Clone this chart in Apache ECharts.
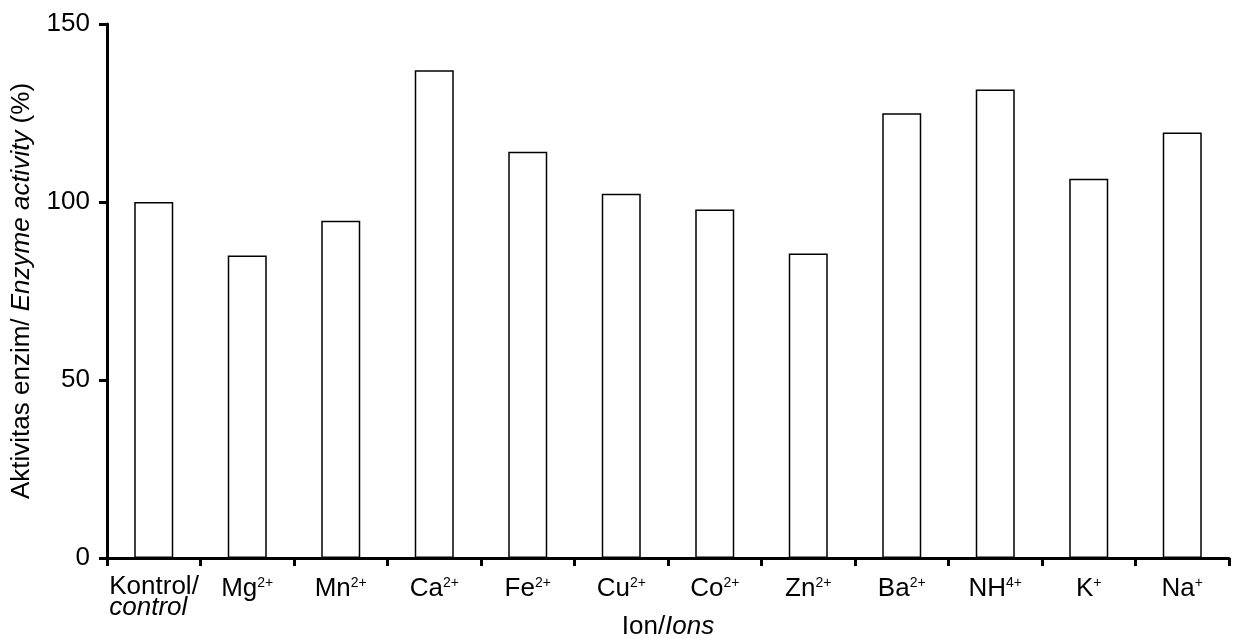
<!DOCTYPE html>
<html>
<head>
<meta charset="utf-8">
<script src="https://cdn.jsdelivr.net/npm/echarts@6/dist/echarts.min.js"></script>
<style>html,body{margin:0;padding:0;background:#fff;}#c{width:1233px;height:639px;}</style>
</head>
<body>
<div id="c"></div>
<script>
// Data
var ions = ['Kontrol/', 'Mg', 'Mn', 'Ca', 'Fe', 'Cu', 'Co', 'Zn', 'Ba', 'NH', 'K', 'Na'];
var charges = ['', '2+', '2+', '2+', '2+', '2+', '2+', '2+', '2+', '4+', '+', '+'];
var activity = [100, 85, 94.7, 137, 114.1, 102.3, 97.9, 85.5, 124.9, 131.6, 106.5, 119.5];
var yTicks = [0, 50, 100, 150];

var FONT = 'Liberation Sans, Arial, sans-serif';
var FS = 26;
var chart = echarts.init(document.getElementById('c'), null, {renderer: 'canvas'});

var categories = ions.map(function (n, i) { return n + '|' + charges[i]; });

chart.setOption({
  animation: false,
  backgroundColor: '#ffffff',
  grid: {left: 107, right: 4, top: 24, bottom: 81, containLabel: false, outerBoundsMode: 'none'},
  xAxis: {
    type: 'category',
    data: categories,
    name: 'Ion/{i|Ions}',
    nameLocation: 'middle',
    nameGap: 56,
    nameMoveOverlap: false,
    nameTextStyle: {
      fontFamily: FONT, fontSize: FS, color: '#000', lineHeight: FS,
      rich: {i: {fontFamily: FONT, fontSize: FS, fontStyle: 'italic', color: '#000', lineHeight: FS}}
    },
    axisLine: {lineStyle: {color: '#000', width: 3}},
    axisTick: {show: true, length: 8, lineStyle: {color: '#000', width: 3}},
    axisLabel: {
      interval: 0,
      margin: 18,
      color: '#000',
      fontFamily: FONT,
      fontSize: FS,
      lineHeight: 21,
      formatter: function (v) {
        var p = v.split('|');
        if (p[0] === 'Kontrol/') {
          return '{k|Kontrol/}\n{ki|control}';
        }
        return '{b|' + p[0] + '}{s|' + p[1] + '}';
      },
      rich: {
        b: {fontFamily: FONT, fontSize: FS, color: '#000', lineHeight: FS},
        s: {fontFamily: FONT, fontSize: 14, color: '#000', lineHeight: 14, verticalAlign: 'top'},
        k: {fontFamily: FONT, fontSize: FS, color: '#000', lineHeight: 21, width: 89, align: 'left'},
        ki: {fontFamily: FONT, fontSize: FS, fontStyle: 'italic', color: '#000', lineHeight: 21, width: 89, align: 'left'}
      }
    },
    splitLine: {show: false}
  },
  yAxis: {
    type: 'value',
    min: yTicks[0],
    max: yTicks[yTicks.length - 1],
    interval: yTicks[1] - yTicks[0],
    name: 'Aktivitas enzim/ {i|Enzyme activity} (%)',
    nameLocation: 'middle',
    nameGap: 72,
    nameRotate: 90,
    nameMoveOverlap: false,
    nameTextStyle: {
      fontFamily: FONT, fontSize: FS, color: '#000',
      rich: {i: {fontFamily: FONT, fontSize: FS, fontStyle: 'italic', color: '#000'}}
    },
    axisLine: {show: true, lineStyle: {color: '#000', width: 3}},
    axisTick: {show: true, length: 8, lineStyle: {color: '#000', width: 3}},
    axisLabel: {margin: 17, color: '#000', fontFamily: FONT, fontSize: FS},
    splitLine: {show: false}
  },
  series: [{
    type: 'bar',
    data: activity,
    barWidth: 39,
    itemStyle: {color: '#ffffff', borderColor: '#000', borderWidth: 1.5},
    emphasis: {disabled: true}
  }]
});
</script>
</body>
</html>
